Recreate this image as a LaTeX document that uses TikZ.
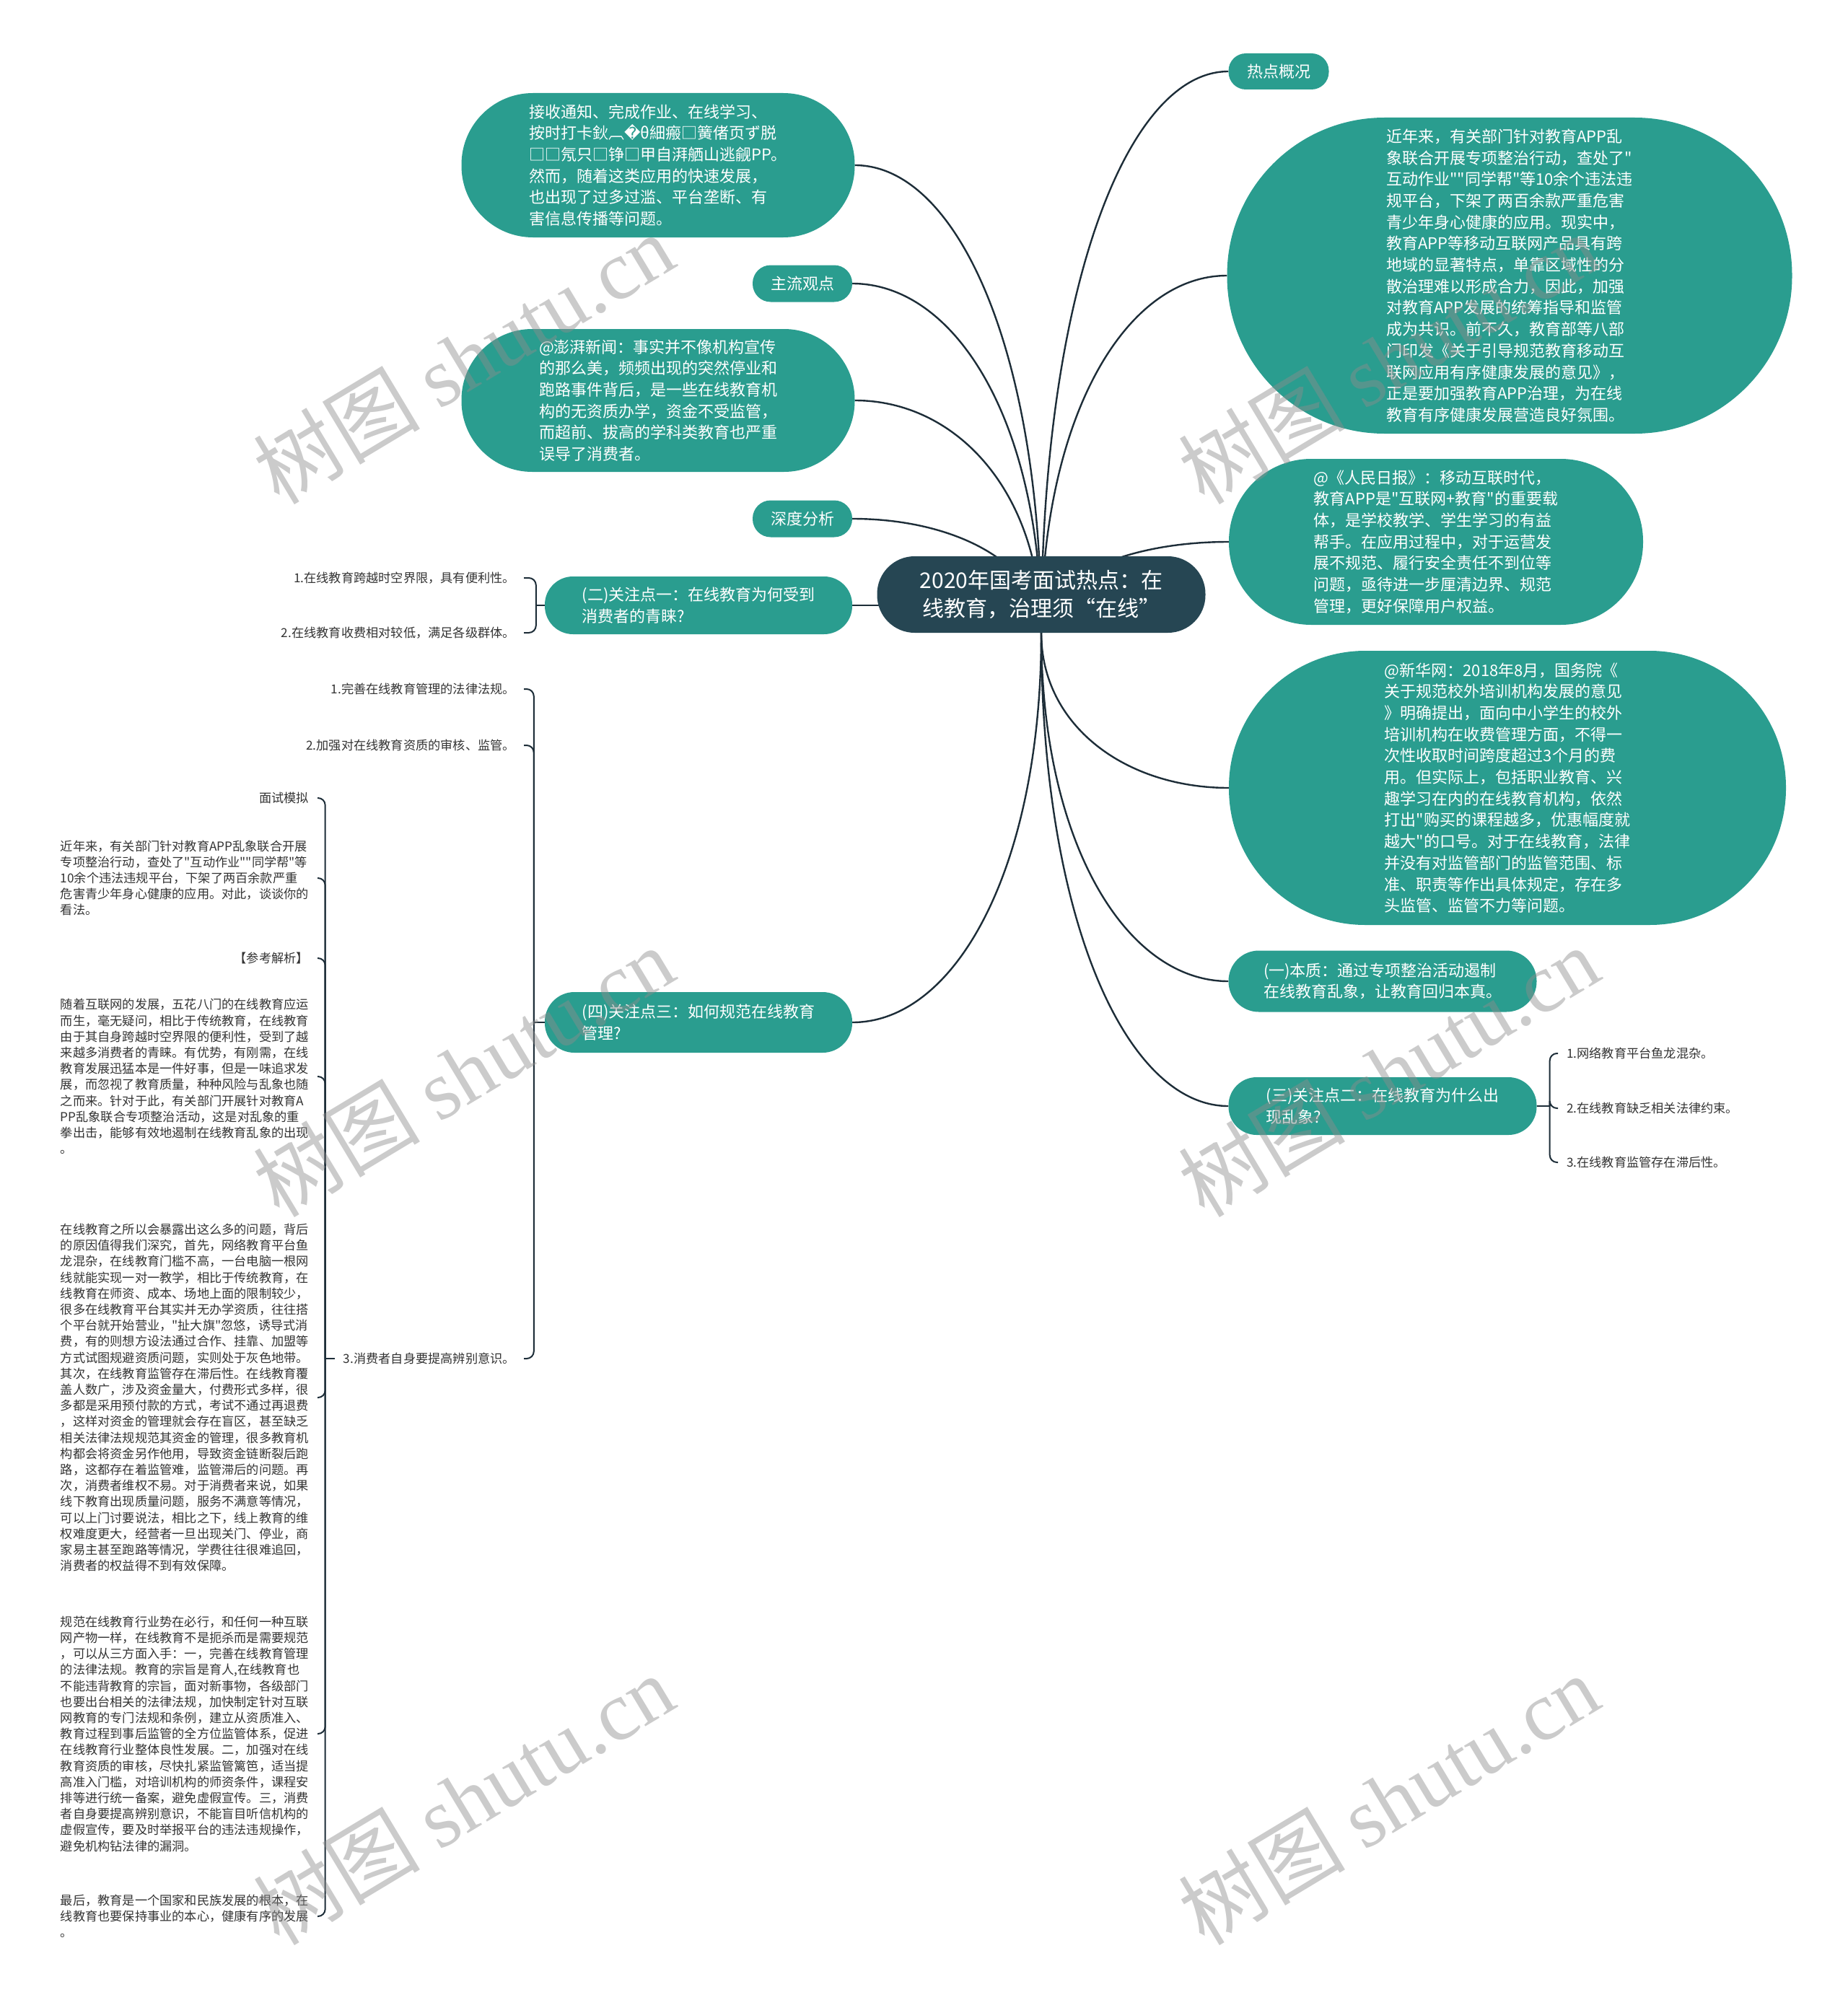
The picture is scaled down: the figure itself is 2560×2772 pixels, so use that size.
\documentclass[tikz,border=0pt]{standalone}
\usepackage{fontspec}
\setmainfont{Noto Sans CJK SC}[Ligatures=TeXOff]
\newfontfamily\wmfont{Liberation Serif}
\newfontfamily\symfont{DejaVu Sans}
\usepackage{tikz}
\usetikzlibrary{calc,backgrounds}
\definecolor{mapTeal}{HTML}{2A9D8F}
\definecolor{mapRoot}{HTML}{264653}
\definecolor{mapLine}{HTML}{1D2D38}
\definecolor{mapText}{HTML}{333333}

\begin{document}
\begin{tikzpicture}[
  x=1pt, y=-1pt,
  bubble/.style={fill=mapTeal, text=white, align=left, inner sep=0pt,
    font=\fontsize{22}{29.7}\selectfont},
  leaf/.style={text=mapText, align=left, inner xsep=12pt, inner ysep=2pt,
    font=\fontsize{17.2}{22.2}\selectfont},
  link/.style={draw=mapLine, line width=2.4pt},
  brace/.style={draw=mapLine, line width=2pt, rounded corners=10pt},
  branch/.style={to path={.. controls ($(\tikztostart)!.6!(\tikztostart|-\tikztotarget)$)
    and ($(\tikztotarget)!.55!(\tikztotarget-|\tikztostart)$) .. (\tikztotarget)}},
  wm/.style={text=black!45, text opacity=.45, rotate=31, font=\fontsize{116}{116}\selectfont}
]
  \useasboundingbox (0,0) rectangle (2560,2772);

  % centre
  \node[fill=mapRoot, text=white, align=center, inner sep=0pt, minimum width=455pt,
    minimum height=106pt, rounded corners=52pt, font=\fontsize{30}{39}\selectfont]
    (root) at (1443,824) {2020年国考面试热点：在\\线教育，治理须“在线”};
  \coordinate (hub) at (root.south);

  % right side
  \node[bubble, minimum width=139pt, minimum height=50pt, rounded corners=24pt] (hot) at (1772,99) {热点概况};
  \node[bubble, minimum width=783pt, minimum height=438pt, rounded corners=218pt] (summary) at (2092,382)
    {近年来，有关部门针对教育APP乱\\象联合开展专项整治行动，查处了"\\互动作业""同学帮"等10余个违法违\\规平台，下架了两百余款严重危害\\青少年身心健康的应用。现实中，\\教育APP等移动互联网产品具有跨\\地域的显著特点，单靠区域性的分\\散治理难以形成合力，因此，加强\\对教育APP发展的统筹指导和监管\\成为共识。前不久，教育部等八部\\门印发《关于引导规范教育移动互\\联网应用有序健康发展的意见》，\\正是要加强教育APP治理，为在线\\教育有序健康发展营造良好氛围。};
  \node[bubble, minimum width=574pt, minimum height=230pt, rounded corners=114pt] (people) at (1990,751)
    {@《人民日报》：移动互联时代，\\教育APP是"互联网+教育"的重要载\\体，是学校教学、学生学习的有益\\帮手。在应用过程中，对于运营发\\展不规范、履行安全责任不到位等\\问题，亟待进一步厘清边界、规范\\管理，更好保障用户权益。};
  \node[bubble, minimum width=772pt, minimum height=380pt, rounded corners=189pt] (xinhua) at (2089,1092)
    {@新华网：2018年8月，国务院《\\关于规范校外培训机构发展的意见\\》明确提出，面向中小学生的校外\\培训机构在收费管理方面，不得一\\次性收取时间跨度超过3个月的费\\用。但实际上，包括职业教育、兴\\趣学习在内的在线教育机构，依然\\打出"购买的课程越多，优惠幅度就\\越大"的口号。对于在线教育，法律\\并没有对监管部门的监管范围、标\\准、职责等作出具体规定，存在多\\头监管、监管不力等问题。};
  \node[bubble, minimum width=427pt, minimum height=85pt, rounded corners=42pt] (essence) at (1916,1360)
    {(一)本质：通过专项整治活动遏制\\在线教育乱象，让教育回归本真。};
  \node[bubble, minimum width=427pt, minimum height=80pt, rounded corners=39pt] (q2) at (1916,1533)
    {(三)关注点二：在线教育为什么出\\现乱象?};
  \node[leaf, anchor=west] (q2a) at (2159,1460) {1.网络教育平台鱼龙混杂。};
  \node[leaf, anchor=west] (q2b) at (2159,1536) {2.在线教育缺乏相关法律约束。};
  \node[leaf, anchor=west] (q2c) at (2159,1611) {3.在线教育监管存在滞后性。};

  % left side
  \node[bubble, minimum width=545pt, minimum height=200pt, rounded corners=99pt] (apps) at (912,229)
    {接收通知、完成作业、在线学习、\\按时打卡鈥︹{\symfont �}θ細瘢□簧偖页ず脱\\□□氖只□铮□甲自湃舾山逃觎PP。\\然而，随着这类应用的快速发展，\\也出现了过多过滥、平台垄断、有\\害信息传播等问题。};
  \node[bubble, minimum width=138pt, minimum height=51pt, rounded corners=25pt] (views) at (1112,393) {主流观点};
  \node[bubble, minimum width=545pt, minimum height=198pt, rounded corners=98pt] (pengpai) at (912,555)
    {@澎湃新闻：事实并不像机构宣传\\的那么美，频频出现的突然停业和\\跑路事件背后，是一些在线教育机\\构的无资质办学，资金不受监管，\\而超前、拔高的学科类教育也严重\\误导了消费者。};
  \node[bubble, minimum width=138pt, minimum height=51pt, rounded corners=25pt] (deep) at (1112,719) {深度分析};
  \node[bubble, minimum width=426pt, minimum height=80pt, rounded corners=39pt] (q1) at (968,839)
    {(二)关注点一：在线教育为何受到\\消费者的青睐?};
  \node[leaf, anchor=east] (q1a) at (726,801) {1.在线教育跨越时空界限，具有便利性。};
  \node[leaf, anchor=east] (q1b) at (726,877) {2.在线教育收费相对较低，满足各级群体。};
  \node[bubble, minimum width=426pt, minimum height=84pt, rounded corners=41pt] (q3) at (968,1417)
    {(四)关注点三：如何规范在线教育\\管理?};
  \node[leaf, anchor=east] (q3a) at (726,955) {1.完善在线教育管理的法律法规。};
  \node[leaf, anchor=east] (q3b) at (726,1033) {2.加强对在线教育资质的审核、监管。};
  \node[leaf, anchor=east] (q3c) at (726,1883) {3.消费者自身要提高辨别意识。};

  % answer column
  \node[leaf, anchor=east] (mock) at (440,1106) {面试模拟};
  \node[leaf, anchor=east] (task) at (440,1217)
    {近年来，有关部门针对教育APP乱象联合开展\\专项整治行动，查处了"互动作业""同学帮"等\\10余个违法违规平台，下架了两百余款严重\\危害青少年身心健康的应用。对此，谈谈你的\\看法。};
  \node[leaf, anchor=east] (ref) at (440,1328) {【参考解析】};
  \node[leaf, anchor=east] (ansA) at (440,1492)
    {随着互联网的发展，五花八门的在线教育应运\\而生，毫无疑问，相比于传统教育，在线教育\\由于其自身跨越时空界限的便利性，受到了越\\来越多消费者的青睐。有优势，有刚需，在线\\教育发展迅猛本是一件好事，但是一味追求发\\展，而忽视了教育质量，种种风险与乱象也随\\之而来。针对于此，有关部门开展针对教育A\\PP乱象联合专项整治活动，这是对乱象的重\\拳出击，能够有效地遏制在线教育乱象的出现\\。};
  \node[leaf, anchor=east] (ansB) at (440,1937)
    {在线教育之所以会暴露出这么多的问题，背后\\的原因值得我们深究，首先，网络教育平台鱼\\龙混杂，在线教育门槛不高，一台电脑一根网\\线就能实现一对一教学，相比于传统教育，在\\线教育在师资、成本、场地上面的限制较少，\\很多在线教育平台其实并无办学资质，往往搭\\个平台就开始营业，"扯大旗"忽悠，诱导式消\\费，有的则想方设法通过合作、挂靠、加盟等\\方式试图规避资质问题，实则处于灰色地带。\\其次，在线教育监管存在滞后性。在线教育覆\\盖人数广，涉及资金量大，付费形式多样，很\\多都是采用预付款的方式，考试不通过再退费\\，这样对资金的管理就会存在盲区，甚至缺乏\\相关法律法规规范其资金的管理，很多教育机\\构都会将资金另作他用，导致资金链断裂后跑\\路，这都存在着监管难，监管滞后的问题。再\\次，消费者维权不易。对于消费者来说，如果\\线下教育出现质量问题，服务不满意等情况，\\可以上门讨要说法，相比之下，线上教育的维\\权难度更大，经营者一旦出现关门、停业，商\\家易主甚至跑路等情况，学费往往很难追回，\\消费者的权益得不到有效保障。};
  \node[leaf, anchor=east] (ansC) at (440,2403)
    {规范在线教育行业势在必行，和任何一种互联\\网产物一样，在线教育不是扼杀而是需要规范\\，可以从三方面入手：一，完善在线教育管理\\的法律法规。教育的宗旨是育人,在线教育也\\不能违背教育的宗旨，面对新事物，各级部门\\也要出台相关的法律法规，加快制定针对互联\\网教育的专门法规和条例，建立从资质准入、\\教育过程到事后监管的全方位监管体系，促进\\在线教育行业整体良性发展。二，加强对在线\\教育资质的审核，尽快扎紧监管篱笆，适当提\\高准入门槛，对培训机构的师资条件，课程安\\排等进行统一备案，避免虚假宣传。三，消费\\者自身要提高辨别意识，不能盲目听信机构的\\虚假宣传，要及时举报平台的违法违规操作，\\避免机构钻法律的漏洞。};
  \node[leaf, anchor=east] (ansD) at (440,2656)
    {最后，教育是一个国家和民族发展的根本，在\\线教育也要保持事业的本心，健康有序的发展\\。};

  \begin{scope}[on background layer]
    \draw[link] (hub) to[branch] (hot.west);
    \draw[link] (hub) to[branch] (summary.west);
    \draw[link] (hub) to[branch] (people.west);
    \draw[link] (hub) to[branch] (xinhua.west);
    \draw[link] (hub) to[branch] (essence.west);
    \draw[link] (hub) to[branch] (q2.west);
    \draw[link] (hub) to[branch] (apps.east);
    \draw[link] (hub) to[branch] (views.east);
    \draw[link] (hub) to[branch] (pengpai.east);
    \draw[link] (hub) to[branch] (deep.east);
    \draw[link] (hub) to[branch] (q3.east);
    \draw[link] (root.center |- q1.east) -- (q1.east);
  \end{scope}

  % braces to the leaves
  \draw[link] (q1.west) -- ++(-12,0) coordinate (j1);
  \draw[brace] (j1) |- (q1a.east);
  \draw[brace] (j1) |- (q1b.east);
  \draw[link] (q3.west) -- ++(-15,0) coordinate (j3);
  \draw[brace] (j3) |- (q3a.east);
  \draw[brace] (j3) |- (q3b.east);
  \draw[brace] (j3) |- (q3c.east);
  \draw[link] (q2.east) -- ++(18,0) coordinate (j2);
  \draw[brace] (j2) |- (q2a.west);
  \draw[brace] (j2) |- (q2b.west);
  \draw[brace] (j2) |- (q2c.west);
  \draw[brace] (q3c.west) -- ++(-13,0) coordinate (j4);
  \draw[brace] (j4) |- (mock.east);
  \draw[brace] (j4) |- (task.east);
  \draw[brace] (j4) |- (ref.east);
  \draw[brace] (j4) |- (ansA.east);
  \draw[brace] (j4) |- (ansB.east);
  \draw[brace] (j4) |- (ansC.east);
  \draw[brace] (j4) |- (ansD.east);

  % watermark
  \foreach \wx/\wy in {642/497, 1924/497, 642/1485, 1924/1485, 642/2494, 1924/2494}
    \node[wm] at (\wx,\wy) {树图 {\wmfont shutu.cn}};
\end{tikzpicture}
\end{document}
